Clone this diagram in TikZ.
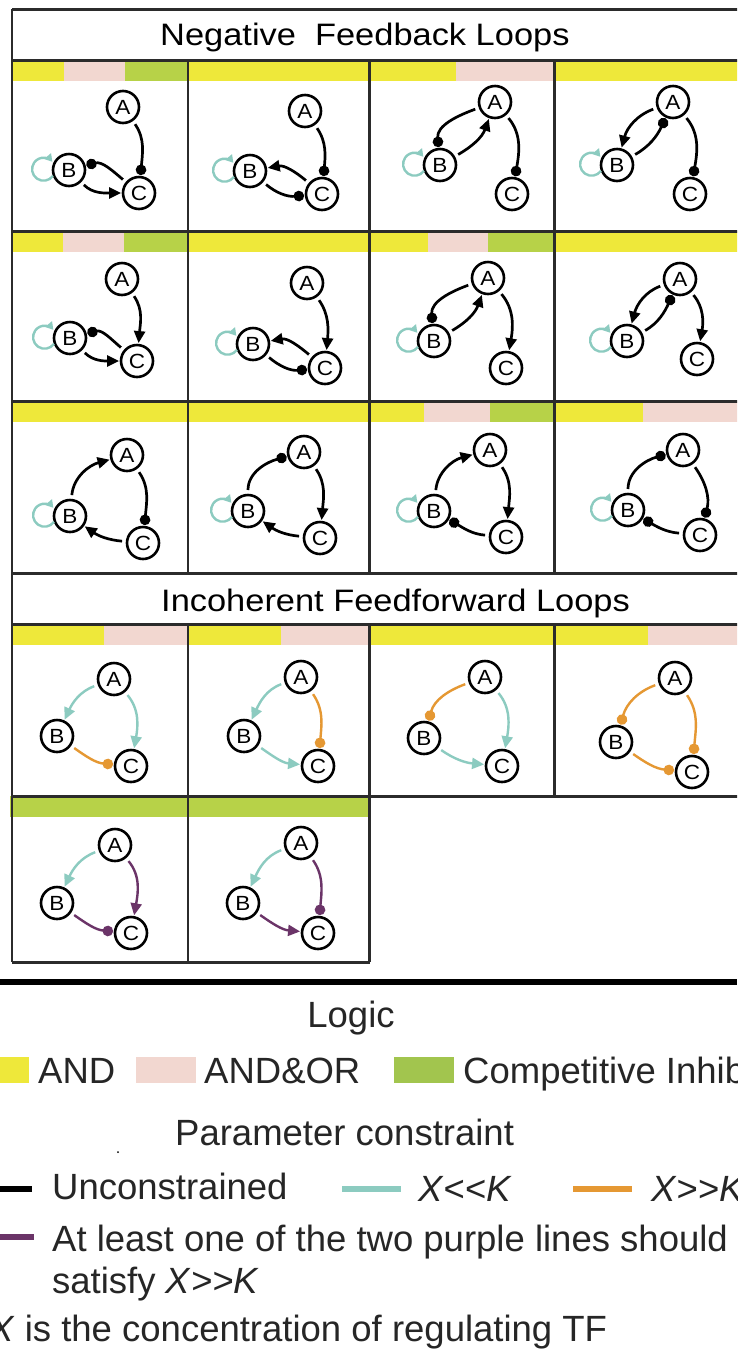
\documentclass[tikz,border=0pt]{standalone}
\usepackage{fontspec}
\setmainfont{Liberation Sans}
\usetikzlibrary{arrows.meta}
\definecolor{yel}{HTML}{EEE83A}
\definecolor{pnk}{HTML}{F2D7D0}
\definecolor{grn}{HTML}{B7D248}
\definecolor{lgrn}{HTML}{A2C54E}
\definecolor{tl}{HTML}{8CCBC0}
\definecolor{org}{HTML}{E59833}
\definecolor{pur}{HTML}{6B3468}
\definecolor{gridc}{HTML}{2B2B2B}
\newcommand\sx[1]{\scalebox{1.1}[1]{#1}}
\newcommand\nfont{\fontsize{20.5}{20.5}\selectfont}
\newcommand\tfont{\fontsize{31}{31}\selectfont}
\newcommand\lfont{\fontsize{36.5}{36.5}\selectfont}
\newcommand\trio[7]{%
  \node[nd] (a#1) at (#2,-#3) {\sx{A}};
  \node[nd] (b#1) at (#4,-#5) {\sx{B}};
  \node[nd] (c#1) at (#6,-#7) {\sx{C}};}
\newcommand\selfloop[1]{\draw[slf] ([shift={(-16,-5.8)}]#1.center) arc[start angle=-35,end angle=-320,radius=11.5];}
\newcommand\bx[4]{\fill[#1] (#2,-#4) rectangle (#3,{-#4-21});}
\tikzset{
  nd/.style={circle, draw, line width=2.6pt, minimum size=32pt, inner sep=0pt, fill=white, font=\nfont, outer sep=2pt},
  ed/.style={line width=2.7pt, shorten <=3pt},
  act/.style={ed, -{Triangle[length=12pt,width=11pt]}},
  inh/.style={ed, -{Circle[length=10.5pt]}},
  tact/.style={act, draw=tl, line width=2.4pt},
  oinh/.style={inh, draw=org, line width=2.4pt},
  pact/.style={act, draw=pur, line width=2.4pt},
  pinh/.style={inh, draw=pur, line width=2.4pt},
  slf/.style={line width=2.4pt, draw=tl, -{Triangle[length=7.5pt,width=8.5pt]}},
  gl/.style={draw=gridc, line width=3pt},
  gv/.style={draw=gridc, line width=2.6pt},
  ttl/.style={anchor=base west, inner sep=0pt, font=\tfont},
  lt/.style={anchor=base west, inner sep=0pt, font=\lfont, text=black!85},
}
\begin{document}
\begin{tikzpicture}[x=1pt,y=1pt]
\clip (0,0) rectangle (737,-1361);
\fill[white] (0,0) rectangle (737,-1361);
% ---------- colour bars ----------
\bx{yel}{12}{64}{60}\bx{pnk}{64}{125}{60}\bx{grn}{125}{188}{60}
\bx{yel}{188}{370}{60}
\bx{yel}{370}{456}{60}\bx{pnk}{456}{555}{60}
\bx{yel}{555}{740}{60}
\bx{yel}{12}{63}{231}\bx{pnk}{63}{124}{231}\bx{grn}{124}{188}{231}
\bx{yel}{188}{370}{231}
\bx{yel}{370}{428}{231}\bx{pnk}{428}{488}{231}\bx{grn}{488}{555}{231}
\bx{yel}{555}{740}{231}
\bx{yel}{12}{188}{401}
\bx{yel}{188}{370}{401}
\bx{yel}{370}{424}{401}\bx{pnk}{424}{490}{401}\bx{grn}{490}{555}{401}
\bx{yel}{555}{643}{401}\bx{pnk}{643}{740}{401}
\bx{yel}{12}{104}{624}\bx{pnk}{104}{188}{624}
\bx{yel}{188}{281}{624}\bx{pnk}{281}{370}{624}
\bx{yel}{370}{555}{624}
\bx{yel}{555}{648}{624}\bx{pnk}{648}{740}{624}
\bx{grn}{10}{188}{796}\bx{grn}{188}{369}{796}
% ---------- grid ----------
\foreach \yy in {9,60,231,401,573,624,796} {\draw[gl] (12,-\yy) -- (745,-\yy);}
\draw[gl] (12,-962) -- (369.5,-962);
\draw[gv] (12,-9) -- (12,-962);
\foreach \xx in {188,369.5,554.5} {\draw[gv] (\xx,-60) -- (\xx,-573); \draw[gv] (\xx,-624) -- (\xx,-796);}
\draw[gv] (188,-796) -- (188,-962);
\draw[gv] (369.5,-796) -- (369.5,-962);
% ---------- titles ----------
\node[ttl] (t1) at (160,-45) {\scalebox{1.11}[1]{Negative\ \ Feedback Loops}};
\node[ttl] (t2) at (161,-611) {\scalebox{1.11}[1]{Incoherent Feedforward Loops}};
% ---------- row 1 ----------
\trio{11}{123}{107}{69}{170}{139}{193}
\draw[inh] (a11) to[out=-55,in=85] (c11);
\draw[act] (b11) to[out=-45,in=180] (c11);
\draw[inh] (c11) to[out=140,in=15] (b11);
\selfloop{b11}
\trio{12}{305}{111}{250}{171}{322}{194}
\draw[inh] (a12) to[out=-55,in=85] (c12);
\draw[act] (c12) to[out=140,in=10] (b12);
\draw[inh] (b12) to[out=-40,in=185] (c12);
\selfloop{b12}
\trio{13}{495}{102}{440}{165}{512}{194}
\draw[inh] (a13) to[out=-50,in=80] (c13);
\draw[act] (b13) to[out=30,in=-110] (a13);
\draw[inh] (a13) to[out=200,in=95] (b13);
\selfloop{b13}
\trio{14}{673}{102}{617}{165}{690}{194}
\draw[act] (a14) to[out=200,in=75] (b14);
\draw[inh] (b14) to[out=30,in=-115] (a14);
\draw[inh] (a14) to[out=-50,in=80] (c14);
\selfloop{b14}
% ---------- row 2 ----------
\trio{21}{122}{279}{70}{338}{137}{361}
\draw[act] (a21) to[out=-55,in=85] (c21);
\draw[act] (b21) to[out=-45,in=180] (c21);
\draw[inh] (c21) to[out=140,in=15] (b21);
\selfloop{b21}
\trio{22}{307}{283}{253}{344}{325}{368}
\draw[act] (a22) to[out=-55,in=85] (c22);
\draw[act] (c22) to[out=140,in=10] (b22);
\draw[inh] (b22) to[out=-40,in=185] (c22);
\selfloop{b22}
\trio{23}{488}{278}{434}{341}{506}{368}
\draw[act] (a23) to[out=-50,in=80] (c23);
\draw[act] (b23) to[out=30,in=-110] (a23);
\draw[inh] (a23) to[out=200,in=95] (b23);
\selfloop{b23}
\trio{24}{680}{279}{627}{341}{697}{359}
\draw[act] (a24) to[out=200,in=75] (b24);
\draw[inh] (b24) to[out=30,in=-115] (a24);
\draw[act] (a24) to[out=-50,in=80] (c24);
\selfloop{b24}
% ---------- row 3 ----------
\trio{31}{127}{455}{70}{516}{143}{543}
\draw[act] (b31) to[out=85,in=195] (a31);
\draw[inh] (a31) to[out=-55,in=85] (c31);
\draw[act] (c31) to[out=175,in=-35] (b31);
\selfloop{b31}
\trio{32}{304}{452}{248}{511}{320}{538}
\draw[inh] (b32) to[out=90,in=195] (a32);
\draw[act] (a32) to[out=-55,in=85] (c32);
\draw[act] (c32) to[out=175,in=-35] (b32);
\selfloop{b32}
\trio{33}{490}{450}{434}{511}{506}{537}
\draw[act] (b33) to[out=85,in=195] (a33);
\draw[act] (a33) to[out=-55,in=85] (c33);
\draw[inh] (c33) to[out=175,in=-30] (b33);
\selfloop{b33}
\trio{34}{683}{450}{628}{510}{700}{535}
\draw[inh] (b34) to[out=90,in=195] (a34);
\draw[inh] (a34) to[out=-55,in=75] (c34);
\draw[inh] (c34) to[out=175,in=-30] (b34);
\selfloop{b34}
% ---------- row 4 (IFFL) ----------
\trio{41}{114}{679}{57}{736}{131}{766}
\draw[tact] (a41) to[out=200,in=65] (b41);
\draw[tact] (a41) to[out=-50,in=80] (c41);
\draw[oinh] (b41) to[out=-35,in=175] (c41);
\trio{42}{301}{677}{244}{736}{318}{766}
\draw[tact] (a42) to[out=200,in=65] (b42);
\draw[oinh] (a42) to[out=-55,in=85] (c42);
\draw[tact] (b42) to[out=-35,in=175] (c42);
\trio{43}{485}{677}{424}{738}{502}{766}
\draw[oinh] (a43) to[out=200,in=75] (b43);
\draw[tact] (a43) to[out=-50,in=80] (c43);
\draw[tact] (b43) to[out=-35,in=175] (c43);
\trio{44}{675}{678}{616}{742}{692}{772}
\draw[oinh] (a44) to[out=200,in=75] (b44);
\draw[oinh] (a44) to[out=-55,in=85] (c44);
\draw[oinh] (b44) to[out=-35,in=175] (c44);
% ---------- row 5 ----------
\trio{51}{115}{845}{57}{903}{131}{933}
\draw[tact] (a51) to[out=200,in=65] (b51);
\draw[pact] (a51) to[out=-50,in=80] (c51);
\draw[pinh] (b51) to[out=-35,in=175] (c51);
\trio{52}{301}{843}{243}{903}{318}{933}
\draw[tact] (a52) to[out=200,in=65] (b52);
\draw[pinh] (a52) to[out=-55,in=85] (c52);
\draw[pact] (b52) to[out=-35,in=175] (c52);
% ---------- legend ----------
\draw[line width=6pt] (0,-981.5) -- (737,-981.5);
\node[lt, anchor=base] (lg) at (351,-1027) {Logic};
\fill[yel] (0,-1057) rectangle (29,-1083);
\node[lt] (l1) at (38,-1083) {AND};
\fill[pnk] (136,-1057) rectangle (196,-1083);
\node[lt] (l2) at (204,-1083) {AND\&OR};
\fill[lgrn] (394,-1057) rectangle (454,-1083);
\node[lt] (l3) at (463,-1083) {Competitive Inhibition};
\node[lt] (pc) at (175,-1145) {Parameter constraint};
\fill[black] (118,-1152) circle (1pt);
\coordinate (k1) at (0,-1189); \coordinate (k2) at (32,-1189);
\draw[line width=6pt] (k1) -- (k2);
\node[lt] (u1) at (52,-1199) {Unconstrained};
\coordinate (t1a) at (342,-1189); \coordinate (t1b) at (401,-1189);
\draw[line width=6pt, tl] (t1a) -- (t1b);
\node[lt] (u2) at (418,-1201) {\textit{X}<{}<\textit{K}};
\coordinate (o1a) at (573,-1189); \coordinate (o1b) at (632,-1189);
\draw[line width=6pt, org] (o1a) -- (o1b);
\node[lt] (u3) at (651,-1201) {\textit{X}>{}>\textit{K}};
\coordinate (p1a) at (0,-1237); \coordinate (p1b) at (34,-1237);
\draw[line width=6pt, pur] (p1a) -- (p1b);
\node[lt] (u4) at (52,-1251) {At least one of the two purple lines should};
\node[lt] (u5) at (52,-1293) {satisfy \textit{X}>{}>\textit{K}};
\node[lt] (u6) at (-11,-1341) {\textit{X} is the concentration of regulating TF};
\end{tikzpicture}
\end{document}
